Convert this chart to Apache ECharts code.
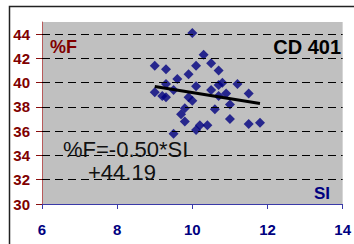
<!DOCTYPE html>
<html><head><meta charset="utf-8">
<script src="https://cdn.jsdelivr.net/npm/echarts@6/dist/echarts.min.js"></script>
<style>html,body{margin:0;padding:0;background:#fff}#c{width:354px;height:244px}</style>
</head><body><div id="c"></div>
<script>
var siValues = [10.0,9.0,9.3,10.3,10.1,10.5,10.7,9.9,9.6,9.3,10.1,10.8,11.2,9.0,9.5,9.2,9.3,9.9,10.0,9.8,9.7,9.8,9.5,10.1,10.2,10.4,10.5,10.7,10.7,10.9,11.0,10.6,11.0,11.5,11.5,11.8];
var fValues  = [44.1,41.4,41.1,42.3,41.4,41.6,41.0,40.7,40.3,39.9,39.7,40.0,39.9,39.2,39.4,38.9,38.8,38.8,38.5,37.9,37.4,36.8,35.8,36.1,36.5,36.5,39.4,39.8,38.9,39.1,38.2,37.8,37.0,39.1,36.6,36.7];
var trendX = [9.0, 11.8];
var trendY = [39.69, 38.29];
var xTicks = [6, 8, 10, 12, 14];
var yTicks = [30, 32, 34, 36, 38, 40, 42, 44];
var yMax = 45;

var pts = siValues.map(function(v, i){ return [v, fValues[i]]; });
var trend = trendX.map(function(v, i){ return [v, trendY[i]]; });
var FF = 'Arial, "Liberation Sans", sans-serif';

var chart = echarts.init(document.getElementById('c'), null, { renderer: 'svg' });
chart.setOption({
  animation: false,
  backgroundColor: '#fff',
  grid: { left: 42, top: 22, right: 4, bottom: 40, show: true, backgroundColor: '#c0c0c0', borderWidth: 0 },
  xAxis: {
    type: 'value', min: xTicks[0], max: xTicks[xTicks.length-1], interval: 2, z: 2,
    axisLine: { show: true, lineStyle: { color: '#3a3aa8', width: 1 } },
    axisTick: { show: true, length: 5, lineStyle: { color: '#3a3aa8' } },
    axisLabel: { color: '#000080', fontWeight: 'bold', fontSize: 15, fontFamily: FF, margin: 18 },
    splitLine: { show: false }
  },
  yAxis: {
    type: 'value', min: yTicks[0], max: yMax, interval: 2, z: 2,
    axisLine: { show: true, lineStyle: { color: '#b85a5a', width: 1 } },
    axisTick: { show: true, length: 6, lineStyle: { color: '#8b1010' } },
    axisLabel: { color: '#800000', fontWeight: 'bold', fontSize: 15, fontFamily: FF, margin: 12, showMaxLabel: false,
      formatter: function(v){ return yTicks.indexOf(v) >= 0 ? String(v) : ''; } },
    splitLine: { show: false }
  },
  series: [
    { type: 'line', data: [], z: 1, silent: true,
      markLine: { silent: true, symbol: 'none', label: { show: false }, animation: false,
        lineStyle: { color: '#000', type: [8, 5], width: 1 },
        data: yTicks.slice(1).map(function(v){ return { yAxis: v }; }) } },
    { type: 'scatter', data: pts, symbol: 'diamond', symbolSize: 10, itemStyle: { color: '#000080' }, z: 3 },
    { type: 'line', data: trend, symbol: 'none', lineStyle: { color: '#000', width: 3 }, z: 4 }
  ],
  graphic: [
    { type: 'rect', shape: { x: 9.5, y: 6.5, width: 500, height: 500 }, style: { fill: 'none', stroke: '#222', lineWidth: 1.5 }, silent: true, z: 100 },
    { type: 'text', x: 50, y: 47, style: { text: '%F', fill: '#800000', font: 'bold 18px ' + FF, verticalAlign: 'middle' }, z: 100 },
    { type: 'text', x: 341, y: 47, style: { text: 'CD 401', fill: '#000', font: 'bold 20px ' + FF, align: 'right', verticalAlign: 'middle' }, z: 100 },
    { type: 'text', x: 314, y: 193, style: { text: 'SI', fill: '#000080', font: 'bold 17px ' + FF, verticalAlign: 'middle' }, z: 100 },
    { type: 'text', x: 63, y: 149, style: { text: '%F=-0.50*SI', fill: '#111', font: '22px ' + FF, verticalAlign: 'middle' }, z: 100 },
    { type: 'text', x: 88, y: 172, style: { text: '+44.19', fill: '#111', font: '22px ' + FF, verticalAlign: 'middle' }, z: 100 }
  ]
});
</script></body></html>
